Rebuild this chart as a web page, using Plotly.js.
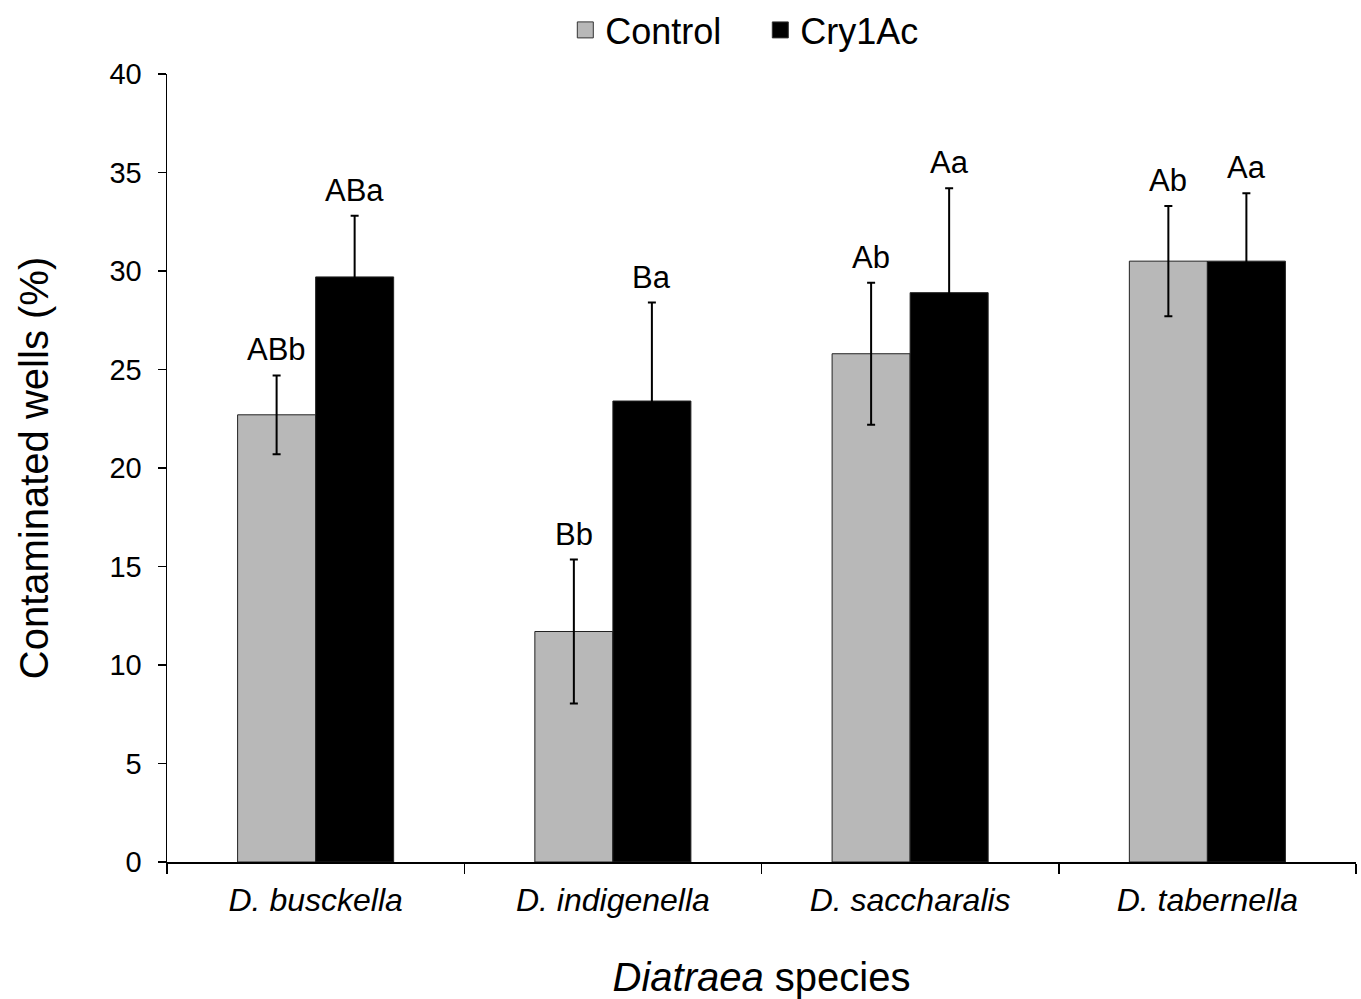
<!DOCTYPE html>
<html>
<head>
<meta charset="utf-8">
<script src="https://cdn.plot.ly/plotly-3.0.1.min.js"></script>
<style>html,body{margin:0;padding:0;background:#fff;}#chart{width:1361px;height:999px;}</style>
</head>
<body>
<div id="chart"></div>
<script>
const categories = ["D. busckella", "D. indigenella", "D. saccharalis", "D. tabernella"];
const controlValues = [22.7, 11.7, 25.8, 30.5];
const controlErrors = [2.0, 3.65, 3.6, 2.8];
const cryValues = [29.7, 23.4, 28.9, 30.5];
const cryErrors = [3.1, 5.0, 5.3, 3.45];
const controlLabels = ["ABb", "Bb", "Ab", "Ab"];
const cryLabels = ["ABa", "Ba", "Aa", "Aa"];
const yTicks = [0, 5, 10, 15, 20, 25, 30, 35, 40];
const seriesNames = ["Control", "Cry1Ac"];
const seriesColors = ["#b8b8b8", "#000000"];

const FONT = "Liberation Sans, Arial, sans-serif";

const traces = [
  {
    type: "bar", name: seriesNames[0], x: categories, y: controlValues, showlegend: false,
    marker: {color: seriesColors[0], line: {color: "#222", width: 1}},
    error_y: {type: "data", array: controlErrors, visible: true, color: "#000", thickness: 2, width: 4}
  },
  {
    type: "bar", name: seriesNames[1], x: categories, y: cryValues, showlegend: false,
    marker: {color: seriesColors[1], line: {color: "#222", width: 1}},
    error_y: {type: "data", array: cryErrors, visible: true, color: "#000", thickness: 2, width: 4}
  }
];
// legend-only entries (square swatches like the reference)
seriesNames.forEach((n, i) => {
  traces.push({type: "scatter", mode: "markers", name: n, x: [null], y: [null],
    marker: {symbol: "square", size: 20, color: seriesColors[i], line: {color: "#333", width: 1}},
    hoverinfo: "skip"});
});

const annotations = [];
categories.forEach((c, i) => {
  annotations.push({x: c, y: controlValues[i] + controlErrors[i], text: controlLabels[i],
    showarrow: false, xshift: -39, yshift: 6, yanchor: "bottom", font: {size: 31, color: "#000", family: FONT}});
  annotations.push({x: c, y: cryValues[i] + cryErrors[i], text: cryLabels[i],
    showarrow: false, xshift: 39, yshift: 6, yanchor: "bottom", font: {size: 31, color: "#000", family: FONT}});
});

const layout = {
  width: 1361, height: 999,
  margin: {l: 167, r: 5, t: 74, b: 137},
  paper_bgcolor: "#fff", plot_bgcolor: "#fff",
  font: {family: FONT, color: "#000"},
  barmode: "group", bargap: 0.475, bargroupgap: 0,
  showlegend: true,
  legend: {orientation: "h", xref: "paper", yref: "container", x: 0.499, xanchor: "center", y: 1, yanchor: "top",
    font: {size: 36, family: FONT}, itemwidth: 30, entrywidth: 150, tracegroupgap: 0},
  xaxis: {
    type: "category",
    tickmode: "array", tickvals: categories,
    ticktext: categories.map(c => "<i>" + c + "</i>"),
    tickson: "boundaries", ticks: "outside", ticklen: 10, tickwidth: 1.5, tickcolor: "#000",
    ticklabelstandoff: 9,
    showline: true, linecolor: "#000", linewidth: 1.5,
    tickfont: {size: 32, family: FONT},
    title: {text: "<i>Diatraea</i> species", font: {size: 40, family: FONT}, standoff: 58},
    showgrid: false, zeroline: false
  },
  yaxis: {
    range: [0, 40], tickmode: "array", tickvals: yTicks, ticktext: yTicks.map(String),
    ticks: "outside", ticklen: 8, tickwidth: 1.5, tickcolor: "#000",
    ticklabelstandoff: 10,
    showline: true, linecolor: "#000", linewidth: 1.5,
    tickfont: {size: 29, family: FONT},
    title: {text: "Contaminated wells (%)", font: {size: 40, family: FONT}, standoff: 48},
    showgrid: false, zeroline: false
  },
  annotations: annotations
};

Plotly.newPlot("chart", traces, layout, {displayModeBar: false, staticPlot: true});
</script>
</body>
</html>
